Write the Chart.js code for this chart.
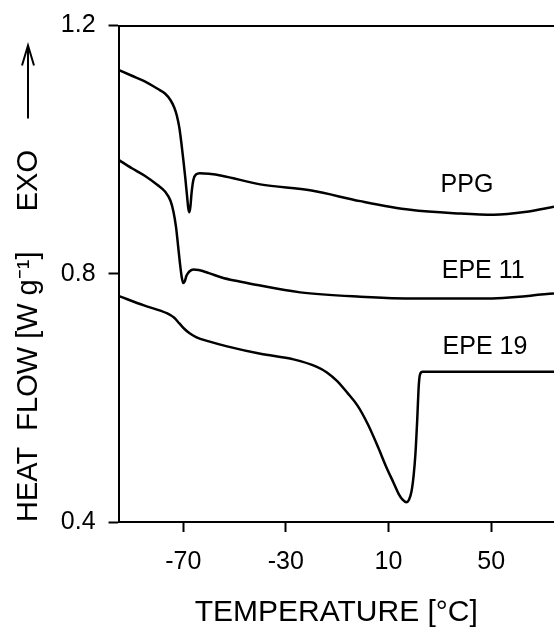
<!DOCTYPE html>
<html>
<head>
<meta charset="utf-8">
<script src="https://cdn.jsdelivr.net/npm/chart.js@4"></script>
<style>
  html, body { margin: 0; padding: 0; background: #fff; }
  #wrap { position: relative; width: 554px; height: 631px; }
</style>
</head>
<body>
<div id="wrap"><canvas id="dsc"></canvas></div>
<script>
// temperature [°C] and heat flow [W/g]
const ppgT = [-95, -90, -85, -80, -77, -75, -73.5, -72.5, -71.5, -70.7, -70, -69.2, -68.5, -68, -67.6, -67.2, -66.7, -66, -65, -63.5, -60, -55, -40, -20, -1, 18.5, 38, 51, 64, 74.5];
const ppgHF = [1.128, 1.119, 1.110, 1.098, 1.090, 1.080, 1.068, 1.055, 1.035, 1.010, 0.985, 0.955, 0.925, 0.905, 0.899, 0.908, 0.932, 0.952, 0.960, 0.962, 0.961, 0.958, 0.944, 0.934, 0.917, 0.903, 0.897, 0.895, 0.900, 0.908];

const epe11T = [-95, -90, -85, -80, -77, -75, -73.8, -72.8, -72, -71.3, -70.6, -70, -69.4, -68.7, -67.5, -66, -64, -60, -55, -50, -43.8, -24.4, -1, 21, 47, 74.5];
const epe11HF = [0.983, 0.970, 0.958, 0.943, 0.932, 0.918, 0.900, 0.875, 0.845, 0.818, 0.795, 0.785, 0.788, 0.797, 0.804, 0.807, 0.806, 0.801, 0.794, 0.789, 0.784, 0.770, 0.763, 0.760, 0.760, 0.768];

const epe19T = [-95, -85.3, -76.2, -73.5, -71.5, -69.5, -67.5, -65, -60, -52.9, -39.9, -27, -17.9, -14, -10, -6, -2, 2, 6, 9, 12, 14, 15.5, 16.9, 18, 19, 19.8, 20.5, 21.2, 21.8, 22.3, 23.3, 74.5];
const epe19HF = [0.764, 0.749, 0.736, 0.729, 0.720, 0.711, 0.704, 0.698, 0.691, 0.683, 0.671, 0.662, 0.650, 0.641, 0.627, 0.608, 0.587, 0.557, 0.520, 0.490, 0.463, 0.445, 0.436, 0.432, 0.436, 0.450, 0.475, 0.510, 0.565, 0.620, 0.638, 0.642, 0.642];

const seriesNames = ['PPG', 'EPE 11', 'EPE 19'];
// where each curve name sits, in data units
const nameT = [40.6, 46.9, 47.6];
const nameHF = [0.943, 0.805, 0.682];

const xTicks = [-70, -30, 10, 50];
const yTicks = [0.4, 0.8, 1.2];

const FONT = '"Liberation Sans", Arial, sans-serif';

function toPoints(xs, ys) {
  return xs.map(function(x, i) { return { x: x, y: ys[i] }; });
}

function lineSet(label, xs, ys) {
  return {
    label: label,
    data: toPoints(xs, ys),
    borderColor: '#000',
    borderWidth: 2.5,
    pointRadius: 0,
    fill: false,
    cubicInterpolationMode: 'monotone'
  };
}

// curve names next to each trace
const curveNames = {
  id: 'curveNames',
  afterDatasetsDraw(chart) {
    const ctx = chart.ctx;
    const xs = chart.scales.x, ys = chart.scales.y;
    ctx.save();
    ctx.fillStyle = '#000';
    ctx.font = '25px ' + FONT;
    ctx.textAlign = 'center';
    ctx.textBaseline = 'middle';
    seriesNames.forEach(function(name, i) {
      ctx.fillText(name, xs.getPixelForValue(nameT[i]), ys.getPixelForValue(nameHF[i]));
    });
    ctx.restore();
  }
};

// the "exo up" arrow above the y axis title
const exoArrow = {
  id: 'exoArrow',
  afterDraw(chart) {
    const ctx = chart.ctx;
    const x = 28;
    const top = chart.chartArea.top + 20;
    const bottom = top + 73;
    ctx.save();
    ctx.strokeStyle = '#000';
    ctx.lineWidth = 2;
    ctx.beginPath();
    ctx.moveTo(x, bottom);
    ctx.lineTo(x, top);
    ctx.moveTo(x - 6, top + 20);
    ctx.lineTo(x, top);
    ctx.lineTo(x + 6, top + 20);
    ctx.stroke();
    ctx.restore();
  }
};

new Chart(document.getElementById('dsc'), {
  type: 'line',
  data: {
    datasets: [
      lineSet(seriesNames[0], ppgT, ppgHF),
      lineSet(seriesNames[1], epe11T, epe11HF),
      lineSet(seriesNames[2], epe19T, epe19HF)
    ]
  },
  options: {
    responsive: true,
    maintainAspectRatio: false,
    animation: false,
    layout: { padding: { top: 12, right: 0, bottom: 0, left: 0 } },
    plugins: { legend: { display: false }, tooltip: { enabled: false } },
    scales: {
      x: {
        type: 'linear',
        position: 'bottom',
        min: -95.2,
        max: 74.5,
        afterBuildTicks: function(axis) {
          axis.ticks = xTicks.map(function(v) { return { value: v }; });
        },
        grid: { drawOnChartArea: false, drawTicks: true, tickLength: 10, tickWidth: 2, color: '#000' },
        border: { display: true, color: '#000', width: 2 },
        ticks: {
          color: '#000',
          padding: 15,
          maxRotation: 0,
          font: { family: FONT, size: 25 },
          callback: function(v) { return String(v); }
        },
        title: {
          display: true,
          text: 'TEMPERATURE [°C]',
          color: '#000',
          font: { family: FONT, size: 30 },
          padding: { top: 3, bottom: 0 }
        }
      },
      x2: {
        type: 'linear',
        position: 'top',
        min: -95.2,
        max: 74.5,
        grid: { drawOnChartArea: false, drawTicks: false },
        border: { display: true, color: '#000', width: 2 },
        ticks: { display: false }
      },
      y: {
        min: 0.4,
        max: 1.2,
        afterBuildTicks: function(axis) {
          axis.ticks = yTicks.map(function(v) { return { value: v }; });
        },
        grid: { drawOnChartArea: false, drawTicks: true, tickLength: 10, tickWidth: 2, color: '#000' },
        border: { display: true, color: '#000', width: 2 },
        ticks: {
          color: '#000',
          padding: 13,
          font: { family: FONT, size: 25, lineHeight: 1 },
          callback: function(v) { return Number(v).toFixed(1); }
        },
        title: {
          display: true,
          align: 'start',
          text: 'HEAT  FLOW [W g\u207B\u00B9]     EXO',
          color: '#000',
          font: { family: FONT, size: 29 },
          padding: { top: 12, bottom: 1 }
        }
      }
    }
  },
  plugins: [curveNames, exoArrow]
});
</script>
</body>
</html>
